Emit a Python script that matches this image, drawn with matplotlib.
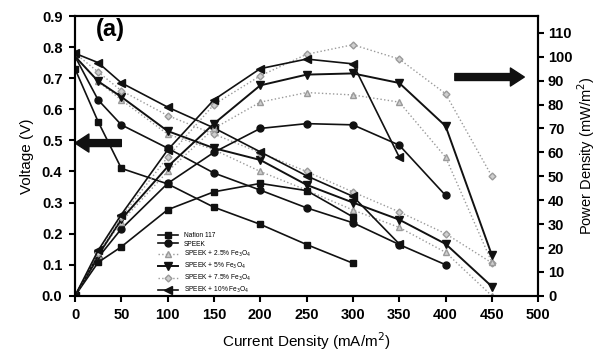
import matplotlib
matplotlib.use("Agg")
import matplotlib.pyplot as plt

plt.rcParams['font.family'] = ['Liberation Sans', 'DejaVu Sans']

# current density (mA/m2)
x_naf = [0, 25, 50, 100, 150, 200, 250, 300]
x_speek = [0, 25, 50, 100, 150, 200, 250, 300, 350, 400]
x_full = [0, 25, 50, 100, 150, 200, 250, 300, 350, 400, 450]
x_10 = [0, 25, 50, 100, 150, 200, 250, 300, 350]

# voltage (V)
v_naf = [0.73, 0.56, 0.41, 0.36, 0.285, 0.23, 0.165, 0.105]
v_speek = [0.77, 0.63, 0.55, 0.475, 0.395, 0.34, 0.283, 0.235, 0.165, 0.10]
v_25 = [0.77, 0.69, 0.63, 0.52, 0.47, 0.40, 0.34, 0.276, 0.22, 0.14, 0.0]
v_5 = [0.77, 0.69, 0.64, 0.53, 0.475, 0.437, 0.357, 0.30, 0.245, 0.167, 0.03]
v_75 = [0.78, 0.72, 0.66, 0.58, 0.52, 0.46, 0.40, 0.334, 0.27, 0.20, 0.106]
v_10 = [0.78, 0.75, 0.685, 0.607, 0.54, 0.463, 0.386, 0.32, 0.167]

# power density (mW/m2)
p_naf = [0, 14, 20.5, 36, 43.5, 47, 44, 33]
p_speek = [0, 16, 28, 47, 60, 70, 72, 71.5, 63, 42]
p_25 = [0, 17, 31, 52, 70, 81, 85, 84, 81, 58, 14]
p_5 = [0, 17, 32, 54, 72, 88, 92.5, 93, 89, 71, 17]
p_75 = [0, 18, 33, 58, 80, 92, 101, 105, 99, 84.5, 50]
p_10 = [0, 19, 34, 61, 82, 95, 99, 97, 58]

labels = ['Nafion 117', 'SPEEK', 'SPEEK + 2.5% Fe$_3$O$_4$', 'SPEEK + 5% Fe$_3$O$_4$',
          'SPEEK + 7.5% Fe$_3$O$_4$', 'SPEEK + 10% Fe$_3$O$_4$']

black = '#111111'
grey = '#9a9a9a'
styles = [
    dict(color=black, marker='s', ls='-', lw=1.2, ms=5),
    dict(color=black, marker='o', ls='-', lw=1.2, ms=5),
    dict(color=grey, marker='^', ls=':', lw=1.0, ms=4.5, mfc='#cfcfcf'),
    dict(color=black, marker='v', ls='-', lw=1.4, ms=6),
    dict(color=grey, marker='D', ls=':', lw=1.0, ms=3.5, mfc='#cfcfcf'),
    dict(color=black, marker='<', ls='-', lw=1.2, ms=6),
]

fig = plt.figure(figsize=(6.0, 3.56), dpi=100)
ax = fig.add_axes([0.125, 0.169, 0.772, 0.786])
ax2 = ax.twinx()

xs = [x_naf, x_speek, x_full, x_full, x_full, x_10]
vs = [v_naf, v_speek, v_25, v_5, v_75, v_10]
ps = [p_naf, p_speek, p_25, p_5, p_75, p_10]

for x, v, p, lab, st in zip(xs, vs, ps, labels, styles):
    ax.plot(x, v, label=lab, **st)
    ax2.plot(x, p, **st)

ax.set_xlim(0, 500)
ax.set_ylim(0, 0.9)
ax2.set_ylim(0, 117)
ax.set_xticks(range(0, 501, 50))
ax.set_yticks([i / 10 for i in range(10)])
ax.set_yticklabels(['%.1f' % (i / 10) for i in range(10)])
ax2.set_yticks(range(0, 111, 10))

for a in (ax, ax2):
    for s in a.spines.values():
        s.set_linewidth(1.5)
    a.tick_params(width=1.5, length=4, labelsize=10.5, pad=5)
    for t in a.get_xticklabels() + a.get_yticklabels():
        t.set_fontweight('bold')
ax2.tick_params(pad=3)

ax.set_xlabel('Current Density (mA/m$^2$)', fontsize=11, labelpad=6)
ax.set_ylabel('Voltage (V)', fontsize=11, labelpad=6)
ax2.set_ylabel('Power Density (mW/m$^2$)', fontsize=10.5, labelpad=2)

ax.text(0.045, 0.93, '(a)', transform=ax.transAxes, fontsize=17, fontweight='bold')

# direction arrows
ax.annotate('', xy=(0.97, 0.782), xytext=(0.82, 0.782), xycoords='axes fraction',
            arrowprops=dict(facecolor=black, edgecolor=black, width=5, headwidth=13, headlength=10))
ax.annotate('', xy=(0.0, 0.546), xytext=(0.1, 0.546), xycoords='axes fraction',
            arrowprops=dict(facecolor=black, edgecolor=black, width=5, headwidth=13, headlength=10))

ax.legend(loc='upper left', bbox_to_anchor=(0.17, 0.245), frameon=False, fontsize=4.8,
          handlelength=3, labelspacing=0.25, borderpad=0.2)

plt.savefig('out.png', dpi=100)
